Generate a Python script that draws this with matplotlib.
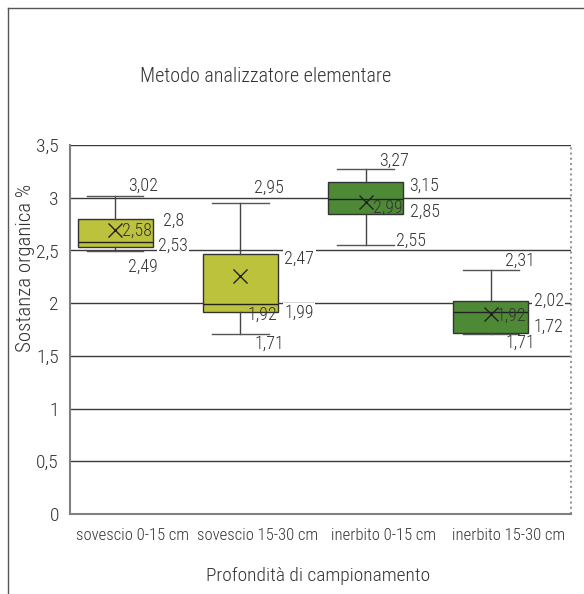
import matplotlib
matplotlib.use("Agg")
from matplotlib import pyplot as plt
from matplotlib.lines import Line2D

categories = ["sovescio 0-15 cm", "sovescio 15-30 cm", "inerbito 0-15 cm", "inerbito 15-30 cm"]
mins = [2.49, 1.71, 2.55, 1.71]
q1s = [2.53, 1.92, 2.85, 1.72]
medians = [2.58, 1.99, 2.99, 1.92]
q3s = [2.8, 2.47, 3.15, 2.02]
maxs = [3.02, 2.95, 3.27, 2.31]
means = [2.69, 2.26, 2.96, 1.90]
colors = ["#bdc23c", "#bdc23c", "#4e8a36", "#4e8a36"]

# label offsets in pixels from (whisker x, value): max, q3, median, q1, min
label_offsets = [
    [(13, 10), (48, -2), (7, 11), (43, 1), (13, -15)],
    [(14, 15), (44, -5), (44, -9), (7, -3), (14, -10)],
    [(14, 8), (44, -4), (7, -9), (44, 2), (30, 4)],
    [(14, 10), (43, 0), (6, -4), (43, 6), (15, -9)],
]

# condensed face like the original, with plain fallbacks
plt.rcParams['font.family'] = ['Roboto Condensed', 'Archivo Narrow', 'Roboto', 'DejaVu Sans']
plt.rcParams['font.weight'] = 300

fig = plt.figure(figsize=(5.84, 5.94), dpi=100)
ax = fig.add_axes([70 / 584, 80 / 594, 501 / 584, 369 / 594])

shift = -0.14
positions = [i + shift for i in range(len(categories))]

stats = []
for i in range(len(categories)):
    stats.append({"whislo": mins[i], "q1": q1s[i], "med": medians[i], "q3": q3s[i],
                  "whishi": maxs[i], "mean": means[i], "fliers": [], "label": categories[i]})

bp = ax.bxp(stats, positions=positions, widths=0.6, capwidths=0.45, patch_artist=True,
            showmeans=True, showfliers=False,
            boxprops=dict(edgecolor="#333333", linewidth=1),
            whiskerprops=dict(color="#444444", linewidth=1),
            capprops=dict(color="#555555", linewidth=1),
            medianprops=dict(color="#222222", linewidth=1),
            meanprops=dict(marker="x", markeredgecolor="#222222", markersize=10, markeredgewidth=1))
for patch, c in zip(bp["boxes"], colors):
    patch.set_facecolor(c)
for k in bp:
    for artist in bp[k]:
        artist.set_zorder(3)

for i in range(len(categories)):
    vals = [maxs[i], q3s[i], medians[i], q1s[i], mins[i]]
    for v, (dx, dy) in zip(vals, label_offsets[i]):
        bbox = None
        if dx > 37:
            bbox = dict(facecolor="white", edgecolor="none", pad=1)
        ax.annotate(str(v).replace(".", ","), (positions[i], v), xytext=(dx, dy),
                    textcoords="offset pixels", ha="left", va="center",
                    fontsize=13, color="#333333", zorder=5, bbox=bbox)

ax.set_xlim(-0.5, 3.5)
ax.set_ylim(0, 3.5)
yticks = [0, 0.5, 1, 1.5, 2, 2.5, 3, 3.5]
ax.set_yticks(yticks)
ax.set_yticklabels([str(t).replace(".0", "").replace(".", ",") for t in yticks], fontsize=14, color="#333333")
ax.set_xticks(range(len(categories)))
ax.set_xticklabels(categories, fontsize=12, color="#333333")
ax.tick_params(axis="both", length=0)
ax.tick_params(axis="y", pad=8)
ax.tick_params(axis="x", pad=10)
ax.grid(axis="y", color="#3a3a3a", linewidth=1)
ax.set_axisbelow(True)

for s in ["top", "right"]:
    ax.spines[s].set_visible(False)
ax.spines["left"].set_color("#808080")
ax.spines["left"].set_linewidth(1.5)
ax.spines["bottom"].set_color("#808080")
ax.spines["bottom"].set_linewidth(1.5)
ax.axvline(3.5, color="#999999", linewidth=1.5, linestyle=(0, (1, 1.5)), clip_on=False)

fig.text(266 / 584, 1 - 77 / 594, "Metodo analizzatore elementare", ha="center", va="center",
         fontsize=14.5, color="#333333")
fig.text(318 / 584, 1 - 576 / 594, "Profondità di campionamento", ha="center", va="center",
         fontsize=14, color="#333333")
fig.text(26 / 584, 1 - 268 / 594, "Sostanza organica %", ha="center", va="center",
         rotation=90, fontsize=15, color="#333333")

# outer frame
fig.add_artist(Line2D([8 / 584, 8 / 584], [0, 1 - 8 / 594], transform=fig.transFigure, color="#555555", linewidth=1))
fig.add_artist(Line2D([8 / 584, 1], [1 - 8 / 594, 1 - 8 / 594], transform=fig.transFigure, color="#555555", linewidth=1))

fig.savefig("out.png", dpi=100)
